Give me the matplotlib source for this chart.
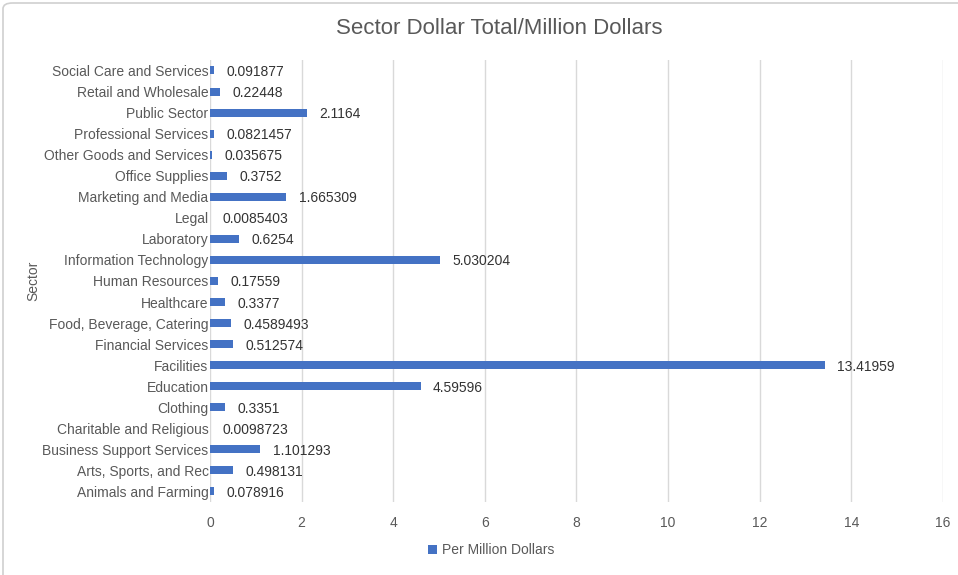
import matplotlib
matplotlib.use("Agg")
import matplotlib.pyplot as plt
from matplotlib.patches import FancyBboxPatch
import numpy as np

plt.rcParams['font.family'] = ['Liberation Sans', 'DejaVu Sans']

# sectors listed bottom to top
sectors = [
    "Animals and Farming", "Arts, Sports, and Rec", "Business Support Services",
    "Charitable and Religious", "Clothing", "Education", "Facilities",
    "Financial Services", "Food, Beverage, Catering", "Healthcare",
    "Human Resources", "Information Technology", "Laboratory", "Legal",
    "Marketing and Media", "Office Supplies", "Other Goods and Services",
    "Professional Services", "Public Sector", "Retail and Wholesale",
    "Social Care and Services",
]
per_million = [
    0.078916, 0.498131, 1.101293, 0.0098723, 0.3351, 4.59596, 13.41959,
    0.512574, 0.4589493, 0.3377, 0.17559, 5.030204, 0.6254, 0.0085403,
    1.665309, 0.3752, 0.035675, 0.0821457, 2.1164, 0.22448, 0.091877,
]
x_ticks = [0, 2, 4, 6, 8, 10, 12, 14, 16]

BLUE = "#4472c4"
TEXT = "#595959"

fig = plt.figure(figsize=(9.58, 5.75), dpi=100)
ax = fig.add_axes([0.2192, 0.127, 0.7651, 0.7687])

y = np.arange(len(sectors))
ax.barh(y, per_million, height=0.38, color=BLUE, label="Per Million Dollars", zorder=3)
for yi, v in zip(y, per_million):
    ax.annotate(str(v), (v, yi), xytext=(9, 0), textcoords="offset points",
                va="center_baseline", ha="left", fontsize=10, color="#333333")

ax.set_xlim(0, 16)
ax.set_ylim(-0.5, len(sectors) - 0.5)
ax.set_xticks(x_ticks)
ax.set_yticks(y)
ax.set_yticklabels(sectors, va="center_baseline")
ax.tick_params(axis="y", length=0, pad=1, labelsize=10, labelcolor=TEXT)
ax.tick_params(axis="x", length=0, pad=10, labelsize=10, labelcolor=TEXT)
ax.grid(axis="x", color="#d9d9d9", linewidth=1, zorder=0)
for s in ax.spines.values():
    s.set_visible(False)

ax.set_ylabel("Sector", fontsize=10, color=TEXT)
ax.yaxis.set_label_coords(-0.232, 0.5)
fig.text(0.521, 0.950, "Sector Dollar Total/Million Dollars", ha="center", va="center",
         fontsize=16, color=TEXT)

fig.legend(loc="center", bbox_to_anchor=(0.513, 0.043), frameon=False, fontsize=10,
           handlelength=0.6, handleheight=0.6, handletextpad=0.4, labelcolor=TEXT)

# thin frame around the chart area
fig.patches.append(FancyBboxPatch((3 / 958, -0.1), 1.2, 1.1 - 3 / 575,
                                  boxstyle="round,pad=0,rounding_size=0.01",
                                  transform=fig.transFigure, fill=False,
                                  edgecolor="#d0d0d0", linewidth=1.2))

fig.savefig("out.png", dpi=100)
